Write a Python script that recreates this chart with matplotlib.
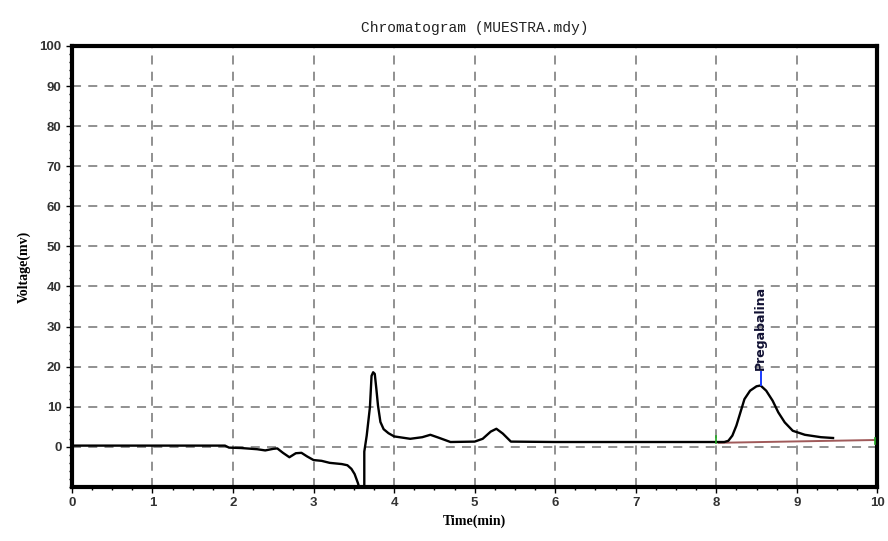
import numpy as np
import matplotlib.pyplot as plt
from matplotlib.ticker import MultipleLocator

# signal (time in min, voltage in mV)
time = [0.0, 0.5, 1.0, 1.5, 1.9, 1.95, 2.1, 2.3, 2.4, 2.5, 2.55, 2.62, 2.7, 2.78,
        2.85, 2.92, 3.0, 3.1, 3.2, 3.35, 3.42, 3.47, 3.51, 3.55, 3.58, 3.6,
        3.63, 3.63, 3.66, 3.7, 3.72, 3.74, 3.76, 3.78, 3.8, 3.83, 3.87, 3.93,
        4.0, 4.2, 4.35, 4.45, 4.55, 4.7, 5.0, 5.1, 5.2, 5.27, 5.35, 5.45, 6.0,
        7.0, 8.1, 8.15, 8.2, 8.25, 8.3, 8.35, 8.42, 8.5, 8.55, 8.62, 8.7,
        8.77, 8.85, 8.95, 9.1, 9.3, 9.45]
voltage = [0.3, 0.3, 0.3, 0.3, 0.3, -0.2, -0.3, -0.6, -0.9, -0.5, -0.4, -1.5,
           -2.6, -1.6, -1.5, -2.4, -3.3, -3.5, -4.0, -4.3, -4.6, -5.5, -6.8,
           -9.0, -11.0, -12.0, -12.0, -1.2, 2.8, 9.9, 17.7, 18.6, 18.2, 14.4,
           10.3, 6.2, 4.4, 3.4, 2.6, 2.0, 2.4, 3.0, 2.3, 1.2, 1.3, 2.0, 3.8,
           4.5, 3.3, 1.3, 1.2, 1.2, 1.2, 1.5, 2.8, 5.3, 8.6, 11.9, 14.0, 15.1,
           15.3, 14.0, 11.5, 8.6, 6.1, 4.0, 3.0, 2.4, 2.2]

# integration baseline and peak marker
base_t = [8.03, 9.97]
base_v = [1.0, 1.7]
peak_t = 8.55
peak_v = 15.5
peak_name = 'Pregabalina'

fig = plt.figure(figsize=(8.88, 5.41), dpi=100)
ax = fig.add_axes([0.081, 0.1, 0.907, 0.815])

ax.plot(time, voltage, color='black', lw=1.7, zorder=3)
ax.plot(base_t, base_v, color='#a05a5a', lw=1.4, zorder=2)
ax.plot([8.0, 8.0], [1.0, 2.8], color='#22aa22', lw=1.2, zorder=4)
ax.plot([9.97, 9.97], [0.6, 2.2], color='#22aa22', lw=1.2, zorder=4)
ax.plot([peak_t, peak_t], [peak_v, peak_v + 3.2], color='#1a3cff', lw=1.4, zorder=4)
ax.text(peak_t, peak_v + 3.6, peak_name, rotation=90, ha='center', va='bottom',
        fontsize=9, fontweight='bold', color='#111133', family='DejaVu Sans')

ax.set_xlim(0, 10)
ax.set_ylim(-10, 100)
ax.set_xticks(range(0, 11))
ax.set_yticks(range(0, 101, 10))
ax.xaxis.set_minor_locator(MultipleLocator(0.25))
ax.yaxis.set_minor_locator(MultipleLocator(2))
ax.tick_params(which='major', length=4, width=1, labelsize=9.5, direction='out')
ax.tick_params(which='minor', length=2, width=1, direction='out')
for lab in ax.get_xticklabels() + ax.get_yticklabels():
    lab.set_family('Liberation Sans')
    lab.set_fontweight('bold')
    lab.set_color('#333333')

ax.grid(True, which='major', color='#888888', linestyle=(0, (5, 4)), lw=1.3)
for side in ['left', 'bottom', 'right', 'top']:
    ax.spines[side].set_linewidth(3)

ax.set_title('Chromatogram (MUESTRA.mdy)', family='Liberation Mono', fontsize=10.5,
             color='#222222', pad=10)
ax.set_xlabel('Time(min)', family='Liberation Serif', fontsize=10, fontweight='bold')
ax.set_ylabel('Voltage(mv)', family='Liberation Serif', fontsize=10, fontweight='bold',
              labelpad=6)

fig.savefig('out.png', dpi=100)
